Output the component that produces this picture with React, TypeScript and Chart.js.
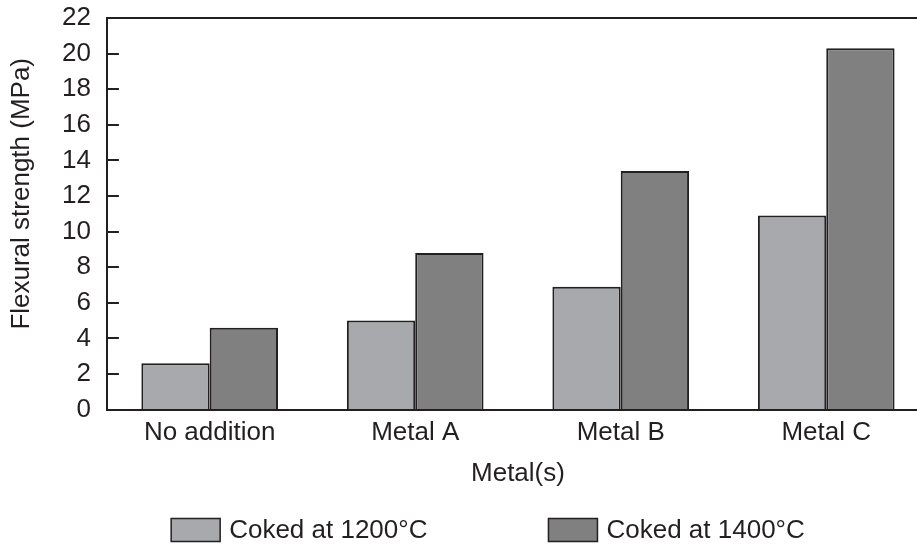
import React, { useEffect, useRef } from "react";
import { Chart, registerables } from "chart.js";

Chart.register(...registerables);

const categories = ["No addition", "Metal A", "Metal B", "Metal C"];
const seriesLabels = ["Coked at 1200°C", "Coked at 1400°C"];
const coked1200 = [2.6, 5.0, 6.9, 10.9];
const coked1400 = [4.6, 8.8, 13.4, 20.3];
const yMin = 0;
const yMax = 22;
const yStep = 2;
const yTitle = "Flexural strength (MPa)";
const xTitle = "Metal(s)";

const INK = "#231f20";
const LIGHT = "#a7a9ac";
const DARK = "#808080";
const FONT = "'Liberation Sans', Arial, Helvetica, sans-serif";

const framePlugin = {
  id: "frameAndInnerTicks",
  afterDraw(chart: any) {
    const { ctx, chartArea } = chart;
    const y = chart.scales.y;
    ctx.save();
    ctx.strokeStyle = INK;
    ctx.lineWidth = 2;
    ctx.beginPath();
    ctx.moveTo(chartArea.left, chartArea.top);
    ctx.lineTo(chartArea.right, chartArea.top);
    ctx.stroke();
    y.ticks.forEach((t: any) => {
      if (t.value <= yMin || t.value >= yMax) return;
      const py = Math.round(y.getPixelForValue(t.value));
      ctx.beginPath();
      ctx.moveTo(chartArea.left, py);
      ctx.lineTo(chartArea.left + 12, py);
      ctx.stroke();
    });
    // y-axis title
    ctx.fillStyle = INK;
    ctx.font = `26px ${FONT}`;
    ctx.textAlign = "center";
    ctx.textBaseline = "middle";
    ctx.translate(22, (chartArea.top + chartArea.bottom) / 2 - 20);
    ctx.rotate(-Math.PI / 2);
    ctx.fillText(yTitle, 0, 0);
    ctx.restore();
  },
};

const legendPlugin = {
  id: "customLegend",
  afterDraw(chart: any) {
    const { ctx, chartArea } = chart;
    const ds = chart.data.datasets;
    const boxW = 49;
    const boxH = 23;
    const gapText = 9;
    const gapItems = 121;
    ctx.save();
    ctx.font = `26px ${FONT}`;
    const widths = ds.map((d: any) => boxW + gapText + ctx.measureText(d.label).width);
    const total = widths.reduce((a: number, b: number) => a + b, 0) + gapItems * (ds.length - 1);
    const cx = (chartArea.left + chartArea.right) / 2 - 30;
    let x = cx - total / 2;
    const cy = chart.height - 16;
    ds.forEach((d: any, i: number) => {
      ctx.fillStyle = d.backgroundColor;
      ctx.fillRect(x, cy - boxH / 2, boxW, boxH);
      ctx.strokeStyle = INK;
      ctx.lineWidth = 1.5;
      ctx.strokeRect(x, cy - boxH / 2, boxW, boxH);
      ctx.fillStyle = INK;
      ctx.textBaseline = "middle";
      ctx.textAlign = "left";
      ctx.fillText(d.label, x + boxW + gapText, cy + 1);
      x += widths[i] + gapItems;
    });
    ctx.restore();
  },
};

export default function App() {
  const ref = useRef<HTMLCanvasElement | null>(null);

  useEffect(() => {
    if (!ref.current) return;
    Chart.defaults.font.family = FONT;
    Chart.defaults.color = INK;
    const chart = new Chart(ref.current, {
      type: "bar",
      data: {
        labels: categories,
        datasets: [
          {
            label: seriesLabels[0],
            data: coked1200,
            backgroundColor: LIGHT,
            borderColor: INK,
            borderWidth: 2,
            categoryPercentage: 0.665,
            barPercentage: 1.0,
          },
          {
            label: seriesLabels[1],
            data: coked1400,
            backgroundColor: DARK,
            borderColor: INK,
            borderWidth: 2,
            categoryPercentage: 0.665,
            barPercentage: 1.0,
          },
        ],
      },
      options: {
        responsive: false,
        animation: false,
        layout: { padding: { top: 18, right: 0, bottom: 57, left: 46 } },
        plugins: {
          legend: { display: false },
          tooltip: { enabled: false },
        },
        scales: {
          x: {
            grid: { drawOnChartArea: false, drawTicks: false },
            border: { display: true, color: INK, width: 2 },
            ticks: { font: { size: 26 }, color: INK, padding: 8 },
            title: {
              display: true,
              text: xTitle,
              font: { size: 26 },
              color: INK,
              padding: { top: 1, bottom: 0 },
            },
          },
          y: {
            min: yMin,
            max: yMax,
            grid: { drawOnChartArea: false, drawTicks: false },
            border: { display: true, color: INK, width: 2 },
            ticks: {
              stepSize: yStep,
              autoSkip: false,
              font: { size: 26 },
              color: INK,
              padding: 16,
            },
            afterFit(scale: any) {
              scale.paddingTop = 0;
            },
          },
        },
      },
      plugins: [framePlugin, legendPlugin],
    });
    return () => chart.destroy();
  }, []);

  return (
    <div
      style={{
        position: "fixed",
        left: 0,
        top: 0,
        width: 917,
        height: 546,
        overflow: "hidden",
        background: "#fff",
      }}
    >
      <canvas ref={ref} width={929} height={546} style={{ display: "block" }} />
    </div>
  );
}
